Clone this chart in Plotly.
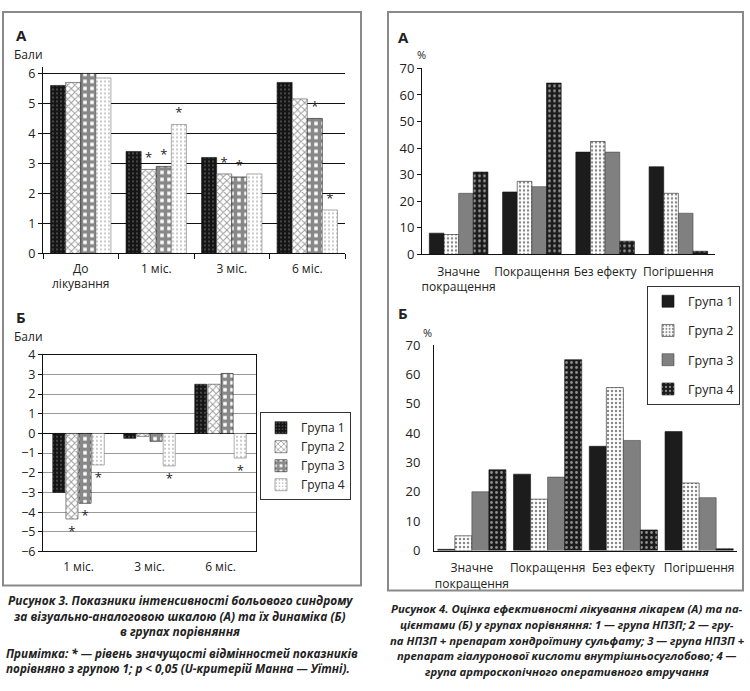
import plotly.graph_objects as go

W, H = 750, 691
def px(x):
    return x / W
def py(y):
    return 1 - y / H

groups = ["Група 1", "Група 2", "Група 3", "Група 4"]

# Рисунок 3 А
a3_cats = ["До<br>лікування", "1 міс.", "3 міс.", "6 міс."]
a3_g1 = [5.6, 3.4, 3.2, 5.7]
a3_g2 = [5.7, 2.8, 2.65, 5.15]
a3_g3 = [6.0, 2.9, 2.55, 4.5]
a3_g4 = [5.85, 4.3, 2.65, 1.45]
a3_sig_g1 = ["", "", "", ""]
a3_sig_g2 = ["", "*", "*", ""]
a3_sig_g3 = ["", "*", "*", "*"]
a3_sig_g4 = ["", "*", "", "*"]
a3_ticks = [0, 1, 2, 3, 4, 5, 6]

# Рисунок 3 Б
b3_cats = ["1 міс.", "3 міс.", "6 міс."]
b3_g1 = [-3.0, -0.25, 2.5]
b3_g2 = [-4.35, -0.15, 2.5]
b3_g3 = [-3.55, -0.4, 3.05]
b3_g4 = [-1.6, -1.65, -1.25]
b3_sig_g1 = ["", "", ""]
b3_sig_g2 = ["*", "", ""]
b3_sig_g3 = ["*", "", ""]
b3_sig_g4 = ["*", "*", "*"]
b3_ticks = [-6, -5, -4, -3, -2, -1, 0, 1, 2, 3, 4]

# Рисунок 4 А
a4_cats = ["Значне<br>покращення", "Покращення", "Без ефекту", "Погіршення"]
a4_g1 = [8, 23.5, 38.5, 33]
a4_g2 = [7.5, 27.5, 42.5, 23]
a4_g3 = [23, 25.5, 38.5, 15.5]
a4_g4 = [31, 64.5, 5, 1.2]
a4_ticks = [0, 10, 20, 30, 40, 50, 60, 70]

# Рисунок 4 Б
b4_g1 = [0.4, 26, 35.5, 40.5]
b4_g2 = [5, 17.5, 55.5, 23]
b4_g3 = [20, 25, 37.5, 18]
b4_g4 = [27.5, 65, 7, 0.6]

FONT = "Open Sans"
TXT = "#222222"

st3 = [
    dict(color="#1a1a1a", line=dict(color="#111", width=0.6),
         pattern=dict(shape=".", bgcolor="#151515", fgcolor="#ffffff", size=4, solidity=0.12)),
    dict(color="#ffffff", line=dict(color="#444", width=0.6),
         pattern=dict(shape="x", bgcolor="#ffffff", fgcolor="#333333", size=5, solidity=0.35)),
    dict(color="#ffffff", line=dict(color="#111", width=0.6),
         pattern=dict(shape="+", bgcolor="#ffffff", fgcolor="#111111", size=7, solidity=0.75)),
    dict(color="#ffffff", line=dict(color="#777", width=0.6),
         pattern=dict(shape=".", bgcolor="#ffffff", fgcolor="#777777", size=4, solidity=0.2)),
]
st4 = [
    dict(color="#1c1c1c", line=dict(color="#111", width=0.6)),
    dict(color="#ffffff", line=dict(color="#222", width=0.6),
         pattern=dict(shape=".", bgcolor="#ffffff", fgcolor="#111111", size=4, solidity=0.3)),
    dict(color="#808080", line=dict(color="#444", width=0.6)),
    dict(color="#1c1c1c", line=dict(color="#111", width=0.6),
         pattern=dict(shape=".", bgcolor="#1c1c1c", fgcolor="#ffffff", size=5, solidity=0.25)),
]

fig = go.Figure()

def add(cats, vals, sig, i, xa, ya, slot, w, style, legend=None, lg=None):
    off = -2 * slot + i * slot + (slot - w) / 2
    fig.add_trace(go.Bar(
        x=cats, y=vals, name=groups[i], xaxis=xa, yaxis=ya,
        width=w, offset=off, marker=style,
        text=sig if sig is not None else None,
        textposition="outside", constraintext="none", cliponaxis=False,
        textfont=dict(family=FONT, size=13, color="#222"),
        showlegend=legend is not None,
        legend=legend if legend else "legend",
        legendgroup=lg,
    ))

for i, (v, s) in enumerate(zip([a3_g1, a3_g2, a3_g3, a3_g4],
                               [a3_sig_g1, a3_sig_g2, a3_sig_g3, a3_sig_g4])):
    add(a3_cats, v, s, i, "x", "y", 0.2, 0.2, st3[i])
for i, (v, s) in enumerate(zip([b3_g1, b3_g2, b3_g3, b3_g4],
                               [b3_sig_g1, b3_sig_g2, b3_sig_g3, b3_sig_g4])):
    add(b3_cats, v, s, i, "x2", "y2", 0.185, 0.17, st3[i], legend="legend")
for i, v in enumerate([a4_g1, a4_g2, a4_g3, a4_g4]):
    add(a4_cats, v, None, i, "x3", "y3", 0.2, 0.2, st4[i])
for i, v in enumerate([b4_g1, b4_g2, b4_g3, b4_g4]):
    add(a4_cats, v, None, i, "x4", "y4", 0.225, 0.225, st4[i], legend="legend2", lg="r%d" % i)

tf = dict(family=FONT, size=12.5, color=TXT)
tfx = dict(family=FONT, size=12, color=TXT)
common_x = dict(type="category", showline=True, linecolor="#111", linewidth=1,
                tickfont=tfx, showgrid=False, zeroline=False, fixedrange=True,
                tickangle=0)
common_y = dict(showline=True, linecolor="#111", linewidth=1, tickfont=tf,
                zeroline=False, fixedrange=True)

fig.update_layout(
    width=W, height=H, margin=dict(l=0, r=0, t=0, b=0),
    paper_bgcolor="white", plot_bgcolor="white",
    barmode="overlay",
    font=dict(family=FONT, color=TXT),
    xaxis=dict(common_x, domain=[px(43), px(345)], anchor="y",
               ticks="outside", tickson="boundaries", ticklen=5, tickcolor="#111",
               ticklabelstandoff=4),
    yaxis=dict(common_y, domain=[py(251), py(60)], anchor="x", range=[0, 6.2],
               tickvals=a3_ticks, showgrid=True, gridcolor="#111", gridwidth=1,
               ticks="outside", ticklen=4, tickcolor="#111"),
    xaxis2=dict(common_x, domain=[px(43), px(256)], anchor="y2", mirror=True,
                ticks="", ticklabelstandoff=4),
    yaxis2=dict(common_y, domain=[py(557), py(355)], anchor="x2", range=[-6, 4],
                tickvals=b3_ticks, showgrid=True, gridcolor="#9a9a9a", gridwidth=1,
                zeroline=True, zerolinecolor="#111", zerolinewidth=1, mirror=True,
                ticks="outside", ticklen=4, tickcolor="#111"),
    xaxis3=dict(common_x, domain=[px(422), px(715)], anchor="y3", ticks="",
                ticklabelstandoff=6),
    yaxis3=dict(common_y, domain=[py(252), py(61)], anchor="x3", range=[0, 70],
                tickvals=a4_ticks, showgrid=False, ticks="outside", ticklen=4,
                tickcolor="#111", tickfont=dict(family=FONT, size=13, color=TXT)),
    xaxis4=dict(common_x, domain=[px(434), px(737)], anchor="y4", ticks="",
                ticklabelstandoff=6),
    yaxis4=dict(common_y, domain=[py(556), py(345)], anchor="x4", range=[0, 70],
                tickvals=a4_ticks, showgrid=False, ticks="", ticklabelstandoff=10,
                tickfont=dict(family=FONT, size=13, color=TXT)),
    legend=dict(x=px(260), y=py(414), xanchor="left", yanchor="top",
                bordercolor="#333", borderwidth=1, bgcolor="white",
                font=dict(family=FONT, size=12, color=TXT), itemclick=False),
    legend2=dict(x=px(740), y=py(284), xanchor="right", yanchor="top",
                 bordercolor="#333", borderwidth=1, bgcolor="white",
                 traceorder="grouped", tracegroupgap=10,
                 font=dict(family=FONT, size=12.5, color=TXT), itemclick=False),
)

# panel borders
fig.add_shape(type="rect", xref="paper", yref="paper",
              x0=px(3), x1=px(361), y0=py(592), y1=py(3),
              line=dict(color="#8a8a8a", width=2))
fig.add_shape(type="rect", xref="paper", yref="paper",
              x0=px(388), x1=px(743), y0=py(597), y1=py(3),
              line=dict(color="#8a8a8a", width=2))

def ann(x, y, text, size=12, bold=False, italic=False, xanchor="left", align="left"):
    fig.add_annotation(
        x=px(x), y=py(y), xref="paper", yref="paper", text=text, showarrow=False,
        xanchor=xanchor, yanchor="middle", align=align,
        font=dict(family=FONT, size=size, color=TXT,
                  weight="bold" if bold else "normal",
                  style="italic" if italic else "normal"))

ann(14, 27, "А", size=15, bold=True)
ann(12, 47, "Бали", size=12)
ann(14, 316, "Б", size=15, bold=True)
ann(12, 336, "Бали", size=12)
ann(396, 29, "А", size=15, bold=True)
ann(415, 47, "%", size=11)
ann(396, 312, "Б", size=15, bold=True)
ann(421, 332, "%", size=11)

cap3 = ["Рисунок 3. Показники інтенсивності больового синдрому",
        "за візуально-аналоговою шкалою (А) та їх динаміка (Б)",
        "в групах порівняння"]
for k, line in enumerate(cap3):
    ann(180, 607 + 16 * k, line, size=11.9, bold=True, italic=True, xanchor="center")
note3 = ["Примітка: * — рівень значущості відмінностей показників",
         "порівняно з групою 1; p &lt; 0,05 (U-критерій Манна — Уїтні)."]
for k, line in enumerate(note3):
    ann(4, 661 + 16 * k, line, size=11.7, bold=True, italic=True)

cap4 = ["Рисунок 4. Оцінка ефективності лікування лікарем (А) та па-",
        "цієнтами (Б) у групах порівняння: 1 — група НПЗП; 2 — гру-",
        "па НПЗП + препарат хондроїтину сульфату; 3 — група НПЗП +",
        "препарат гіалуронової кислоти внутрішньосуглобово; 4 —",
        "група артроскопічного оперативного втручання"]
for k, line in enumerate(cap4):
    ann(567, 616 + 16 * k, line, size=11.3, bold=True, italic=True, xanchor="center")

fig.write_html("out.html", config={"displayModeBar": False},
               post_script="document.body.style.margin='0';")
